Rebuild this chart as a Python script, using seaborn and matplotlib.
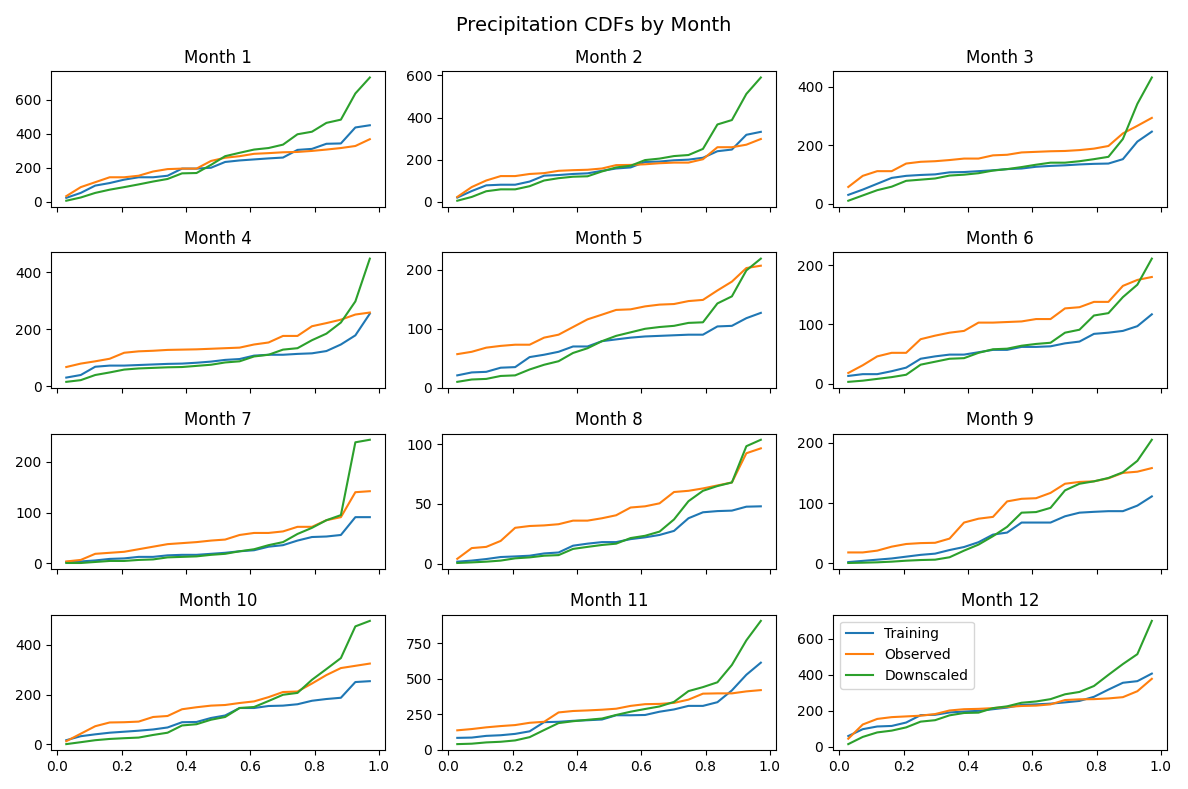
import numpy as np
import pandas as pd
import matplotlib
matplotlib.use("Agg")
import matplotlib.pyplot as plt
import seaborn as sns

quantiles = [0.028, 0.073, 0.118, 0.163, 0.208, 0.253, 0.298, 0.343, 0.388, 0.433, 0.478,
             0.522, 0.567, 0.612, 0.657, 0.702, 0.747, 0.792, 0.837, 0.882, 0.927, 0.972]

series_names = ["Training", "Observed", "Downscaled"]

training = {
    1: [23, 52, 95, 110, 130, 144, 144, 153, 195, 195, 200, 234, 243, 249, 255, 260, 305, 311, 341, 343, 437, 450],
    2: [20, 51, 78, 81, 81, 96, 124, 127, 132, 135, 147, 158, 163, 189, 191, 197, 200, 209, 240, 248, 318, 332],
    3: [30, 48, 68, 88, 95, 98, 100, 107, 108, 111, 114, 118, 120, 126, 129, 131, 134, 136, 137, 152, 212, 246],
    4: [30, 39, 68, 72, 72, 74, 76, 78, 79, 82, 86, 92, 95, 107, 110, 110, 113, 115, 123, 146, 178, 254],
    5: [21, 26, 27, 34, 35, 52, 56, 61, 70, 70, 79, 82, 85, 87, 88, 89, 90, 90, 104, 105, 118, 127],
    6: [13, 16, 16, 21, 27, 42, 46, 49, 49, 53, 57, 57, 62, 62, 63, 68, 71, 84, 86, 89, 97, 117],
    7: [3, 4, 6, 9, 10, 13, 13, 16, 17, 17, 19, 21, 24, 26, 33, 36, 45, 52, 53, 56, 91, 91],
    8: [1.6, 2.5, 3.8, 5.5, 6, 6.6, 8.5, 9.3, 15, 16.7, 18, 18, 20.5, 22, 24, 27.4, 38, 43, 44, 44.4, 47.7, 48],
    9: [2, 4, 6, 8, 11, 14, 16, 22, 27, 35, 47.6, 51, 67.6, 67.6, 67.6, 78, 84, 85.4, 86.5, 86.5, 95.7, 111],
    10: [17, 33, 40.5, 47, 51, 55, 60, 68, 89, 90, 106, 116, 146, 146, 154, 155.5, 161, 175, 182, 187, 250, 253.5],
    11: [85, 87, 99, 103.5, 113, 131, 195.5, 198, 205, 209, 214, 244, 244, 246, 269, 285, 310, 310, 336, 419, 529, 614],
    12: [60, 98, 113, 116, 135, 176, 178, 191, 196, 200, 209, 218, 233, 236, 240, 247, 255, 278, 318, 356, 365, 407],
}

observed = {
    1: [33, 86, 115, 144, 144, 153, 178, 192, 195, 195, 240, 259, 268, 282, 286, 291, 293, 299, 307, 316, 328, 368],
    2: [23, 70, 101, 122, 122, 132, 136, 147, 150, 152, 158, 174, 175, 178, 183, 186, 186, 202, 259, 259, 271, 298],
    3: [57, 95, 111, 111, 137, 143, 145, 149, 154, 154, 165, 167, 175, 177, 179, 180, 183, 188, 197, 240, 266, 293],
    4: [67, 79, 87, 96, 117, 122, 124, 127, 128, 129, 131, 133, 135, 146, 153, 176, 176, 210, 221, 233, 251, 258],
    5: [57, 61, 68, 71, 73, 73, 85, 90, 103, 116, 124, 132, 133, 138, 141, 142, 147, 149, 165, 180, 203, 207],
    6: [18, 31, 46, 52, 52, 75, 81, 86, 89, 103, 103, 104, 105, 109, 109, 127, 129, 138, 138, 165, 175, 180],
    7: [4, 7, 19, 21, 23, 28, 33, 38, 40, 42, 45, 47, 56, 60, 60, 63, 72, 72, 85, 91, 140, 142],
    8: [4, 13, 14, 19, 30, 31.5, 32, 33, 36, 36, 38, 40.5, 47, 48, 50.5, 60, 61, 63, 65.5, 68, 92.5, 96.6],
    9: [18, 18, 21, 27.6, 32, 33.5, 34, 41, 67.6, 74, 77, 102.7, 107, 108, 116.8, 132, 135, 136, 141, 150, 152, 158],
    10: [13, 43, 73, 88, 89, 91.5, 110, 114, 141, 149, 155.5, 158, 166, 172.5, 189.5, 210, 212, 244, 278, 306, 315, 324],
    11: [138, 147, 159, 168, 175, 191, 198, 264, 274, 278, 283, 290, 310, 322, 324, 331, 354, 396, 398, 398, 412, 421],
    12: [45, 124, 155, 165, 169, 173, 182, 202, 209, 211, 215, 222, 227, 229, 236, 260, 264, 265, 269, 276, 309, 378],
}

downscaled = {
    1: [6, 25, 52, 71, 86, 102, 119, 134, 167, 169, 217, 268, 288, 307, 316, 336, 397, 412, 464, 483, 637, 731],
    2: [5, 23, 50, 59, 59, 74, 101, 112, 119, 121, 144, 163, 171, 198, 205, 217, 222, 251, 367, 388, 512, 590],
    3: [10, 28, 46, 58, 78, 82, 86, 96, 99, 104, 113, 118, 125, 133, 140, 140, 145, 152, 160, 221, 341, 431],
    4: [15, 21, 39, 48, 58, 62, 64, 66, 67, 71, 75, 83, 87, 104, 110, 128, 133, 161, 184, 223, 297, 447],
    5: [10, 14, 15, 20, 21, 31, 39, 45, 59, 67, 79, 88, 94, 100, 103, 105, 110, 111, 143, 155, 199, 219],
    6: [3, 5, 8, 11, 15, 32, 37, 42, 43, 52, 58, 59, 64, 67, 69, 86, 91, 115, 119, 146, 167, 211],
    7: [1, 1, 3, 5, 5, 7, 8, 12, 13, 14, 17, 19, 24, 28, 36, 42, 58, 70, 85, 95, 238, 243],
    8: [0.5, 1, 1.6, 2.5, 4.4, 5.2, 6.6, 7.1, 12.3, 14, 15.6, 16.7, 21.4, 23.3, 26.8, 37, 52.3, 61, 65, 68, 98.4, 103.8],
    9: [0.5, 1, 1.6, 2.7, 4.3, 5.4, 6, 10, 21, 31, 45, 60.5, 84, 85, 92, 121, 132, 136, 141.6, 151, 170, 205],
    10: [1.3, 9, 17, 22, 25, 27.5, 38, 47, 76, 81, 99, 110, 146, 150, 174, 199, 206.5, 259, 302, 346, 473, 495],
    11: [41, 44, 53, 57.5, 67, 90, 140, 189, 202, 212, 221, 246, 269, 288, 306, 338, 414, 442, 476, 598, 771, 908],
    12: [15, 55, 80, 90, 108, 140, 148, 175, 188, 190, 215, 225, 245, 252, 265, 292, 305, 338, 400, 460, 515, 700],
}

colors = ["#1f77b4", "#ff7f0e", "#2ca02c"]

fig, axes = plt.subplots(4, 3, figsize=(11.88, 7.89), dpi=100, sharex=True)
for m in range(1, 13):
    ax = axes.flat[m - 1]
    for name, src, c in zip(series_names, [training, observed, downscaled], colors):
        sns.lineplot(x=quantiles, y=src[m], ax=ax, color=c, label=name,
                     legend=(m == 12), linewidth=1.5)
    ax.set_title(f"Month {m}")
    ax.set_xlabel("")
    ax.set_ylabel("")
    ax.set_xticks([0.0, 0.2, 0.4, 0.6, 0.8, 1.0])
    if m == 12:
        ax.legend(loc="upper left")

fig.suptitle("Precipitation CDFs by Month", fontsize=14)
fig.tight_layout()
fig.savefig("out.png", dpi=100)
